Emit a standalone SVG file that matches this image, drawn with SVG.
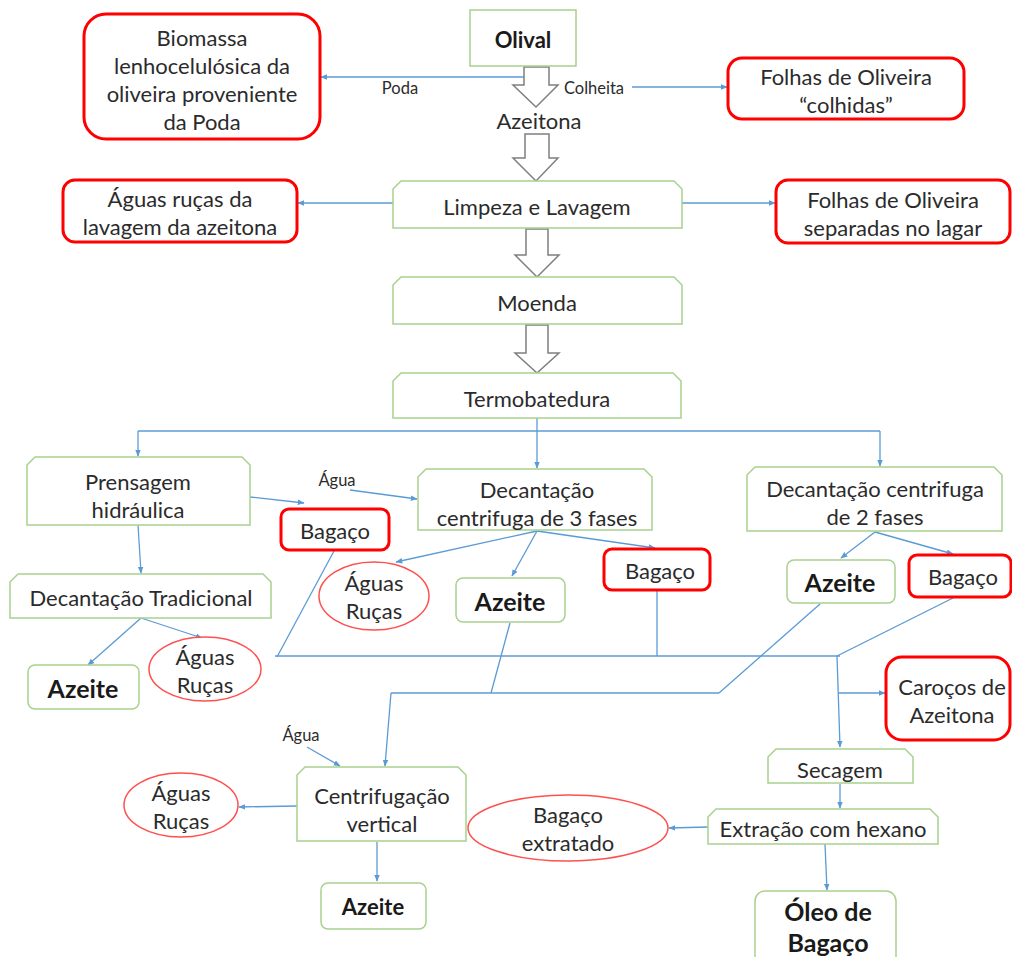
<svg xmlns="http://www.w3.org/2000/svg" width="1012" height="957" viewBox="0 0 1012 957">
  <defs>
    <marker id="ah" viewBox="0 0 10 10" refX="9" refY="5" markerWidth="7" markerHeight="7" orient="auto" markerUnits="userSpaceOnUse">
      <path d="M0,1 L10,5 L0,9 Z" fill="#5b9bd5"/>
    </marker>
    <style>
      text { font-family: "Lato", "Liberation Sans", sans-serif; font-size: 22px; fill: #2b2b2b; text-anchor: middle; dominant-baseline: central; }
      .b { font-weight: bold; font-size: 25px; fill: #1a1a1a; }
      .s { font-size: 16.5px; }
      .proc { fill: #fff; stroke: #a9d18e; stroke-width: 1.5; }
      .res { fill: #fff; stroke: #ff0000; stroke-width: 3; }
      .ell { fill: #fff; stroke: #ff5050; stroke-width: 1.5; }
      .big { fill: #fff; stroke: #7f7f7f; stroke-width: 1.5; }
      .c { fill: none; stroke: #5b9bd5; stroke-width: 1.3; }
      .ca { fill: none; stroke: #5b9bd5; stroke-width: 1.3; marker-end: url(#ah); }
    </style>
  </defs>
  <rect width="1012" height="957" fill="#fff"/>

  <!-- connectors -->
  <g id="connectors">
    <!-- Olival branches -->
    <path class="ca" d="M524,77 L321,77"/>
    <path class="ca" d="M632,87 L727,87"/>
    <!-- Limpeza side products -->
    <path class="ca" d="M393,203 L298,203"/>
    <path class="ca" d="M682,203 L775,203"/>
    <!-- Termobatedura split -->
    <path class="c" d="M537,418 L537,431"/>
    <path class="c" d="M138,431 L880,431"/>
    <path class="ca" d="M138,431 L138,456"/>
    <path class="ca" d="M537,431 L537,468"/>
    <path class="ca" d="M880,431 L880,466"/>
    <!-- Prensagem -->
    <path class="ca" d="M250,497 L304,503"/>
    <path class="ca" d="M138,525 L141,573"/>
    <path class="ca" d="M141,618 L88,665"/>
    <path class="ca" d="M141,618 L202,638"/>
    <!-- Água into 3 fases -->
    <path class="ca" d="M350,490 L417,499"/>
    <!-- 3 fases outputs -->
    <path class="ca" d="M537,531 L396,562"/>
    <path class="ca" d="M537,531 L512,576"/>
    <path class="ca" d="M537,531 L655,548"/>
    <!-- 2 fases outputs -->
    <path class="ca" d="M875,532 L841,558"/>
    <path class="ca" d="M875,532 L953,554"/>
    <!-- bagaço collector -->
    <path class="c" d="M334,551 L277,657"/>
    <path class="c" d="M275,656 L840,656"/>
    <path class="c" d="M657,591 L657,656"/>
    <path class="c" d="M953,598 L837,656"/>
    <path class="ca" d="M837,656 L840,747"/>
    <path class="ca" d="M838,693 L885,693"/>
    <!-- azeite collector -->
    <path class="c" d="M510,623 L491,693"/>
    <path class="c" d="M820,604 L719,693"/>
    <path class="c" d="M391,693 L719,693"/>
    <path class="ca" d="M391,693 L385,766"/>
    <!-- Centrifugação vertical -->
    <path class="ca" d="M307,747 L340,766"/>
    <path class="ca" d="M297,806 L239,807"/>
    <path class="ca" d="M377,842 L377,881"/>
    <!-- Secagem / extração -->
    <path class="ca" d="M840,784 L840,808"/>
    <path class="ca" d="M708,827 L669,828"/>
    <path class="ca" d="M825,844 L827,890"/>
  </g>

  <!-- hollow block arrows of the main line -->
  <g id="main-arrows">
    <path class="big" d="M524,67 L549,67 L549,85 L558,85 L536,107 L513,85 L524,85 Z"/>
    <path class="big" d="M525,134 L549,134 L549,158 L558,158 L536,181 L513,158 L525,158 Z"/>
    <path class="big" d="M526,229 L548,229 L548,255 L559,255 L537,277 L515,255 L526,255 Z"/>
    <path class="big" d="M526,325 L548,325 L548,353 L559,353 L537,373 L515,353 L526,353 Z"/>
  </g>

  <!-- main line -->
  <g id="olival">
    <rect class="proc" x="470" y="10" width="106" height="56"/>
    <text class="b" x="523" y="39" style="font-size:22px">Olival</text>
  </g>
  <g id="poda-label"><text class="s" x="400" y="88">Poda</text></g>
  <g id="colheita-label"><text class="s" x="594" y="88">Colheita</text></g>
  <g id="azeitona"><text x="539" y="120">Azeitona</text></g>

  <g id="biomassa">
    <rect class="res" x="84" y="14" width="236" height="125" rx="22"/>
    <text x="202" y="37">Biomassa</text>
    <text x="202" y="65">lenhocelulósica da</text>
    <text x="202" y="93">oliveira proveniente</text>
    <text x="202" y="121">da Poda</text>
  </g>
  <g id="folhas-colhidas">
    <rect class="res" x="728" y="58" width="236" height="61" rx="14"/>
    <text x="846" y="76">Folhas de Oliveira</text>
    <text x="846" y="104">“colhidas”</text>
  </g>

  <g id="limpeza">
    <path class="proc" d="M401,181 L674,181 L682,189 L682,228 L393,228 L393,189 Z"/>
    <text x="537" y="206">Limpeza e Lavagem</text>
  </g>
  <g id="aguas-lavagem">
    <rect class="res" x="63" y="180" width="234" height="62" rx="12"/>
    <text x="180" y="198">Águas ruças da</text>
    <text x="180" y="226">lavagem da azeitona</text>
  </g>
  <g id="folhas-lagar">
    <rect class="res" x="776" y="180" width="234" height="63" rx="12"/>
    <text x="893" y="199">Folhas de Oliveira</text>
    <text x="893" y="227">separadas no lagar</text>
  </g>

  <g id="moenda">
    <path class="proc" d="M401,277 L674,277 L682,285 L682,324 L393,324 L393,285 Z"/>
    <text x="537" y="302">Moenda</text>
  </g>
  <g id="termobatedura">
    <path class="proc" d="M401,373 L673,373 L681,381 L681,418 L393,418 L393,381 Z"/>
    <text x="537" y="398">Termobatedura</text>
  </g>

  <!-- extraction branches -->
  <g id="prensagem">
    <path class="proc" d="M35,457 L242,457 L250,465 L250,525 L27,525 L27,465 Z"/>
    <text x="138" y="481">Prensagem</text>
    <text x="138" y="509">hidráulica</text>
  </g>
  <g id="agua-1"><text class="s" x="337" y="480">Água</text></g>
  <g id="decant-3">
    <path class="proc" d="M426,469 L644,469 L652,477 L652,530 L418,530 L418,477 Z"/>
    <text x="537" y="489">Decantação</text>
    <text x="537" y="517">centrifuga de 3 fases</text>
  </g>
  <g id="decant-2">
    <path class="proc" d="M755,467 L994,467 L1002,475 L1002,531 L747,531 L747,475 Z"/>
    <text x="875" y="488">Decantação centrifuga</text>
    <text x="875" y="516">de 2 fases</text>
  </g>

  <g id="bagaco-1">
    <rect class="res" x="281" y="509" width="108" height="41" rx="8"/>
    <text x="335" y="530">Bagaço</text>
  </g>
  <g id="decant-trad">
    <path class="proc" d="M18,574 L263,574 L271,582 L271,618 L10,618 L10,582 Z"/>
    <text x="141" y="597">Decantação Tradicional</text>
  </g>
  <g id="azeite-1">
    <rect class="proc" x="28" y="665" width="111" height="44" rx="7"/>
    <text class="b" x="83" y="688">Azeite</text>
  </g>
  <g id="aguas-rucas-1">
    <ellipse class="ell" cx="205" cy="669" rx="56" ry="32"/>
    <text x="205" y="656">Águas</text>
    <text x="205" y="684">Ruças</text>
  </g>

  <g id="aguas-rucas-2">
    <ellipse class="ell" cx="374" cy="596" rx="55" ry="34"/>
    <text x="374" y="582">Águas</text>
    <text x="374" y="610">Ruças</text>
  </g>
  <g id="azeite-2">
    <rect class="proc" x="456" y="578" width="109" height="44" rx="7"/>
    <text class="b" x="510" y="601">Azeite</text>
  </g>
  <g id="bagaco-2">
    <rect class="res" x="604" y="549" width="106" height="41" rx="8"/>
    <text x="660" y="570">Bagaço</text>
  </g>

  <g id="azeite-3">
    <rect class="proc" x="787" y="560" width="108" height="43" rx="7"/>
    <text class="b" x="840" y="582">Azeite</text>
  </g>
  <g id="bagaco-3">
    <rect class="res" x="909" y="555" width="102" height="42" rx="8"/>
    <text x="963" y="576">Bagaço</text>
  </g>

  <g id="carocos">
    <rect class="res" x="886" y="657" width="124" height="83" rx="16"/>
    <text x="952" y="686">Caroços de</text>
    <text x="952" y="714">Azeitona</text>
  </g>

  <!-- vertical centrifugation -->
  <g id="agua-2"><text class="s" x="301" y="735">Água</text></g>
  <g id="centrifugacao">
    <path class="proc" d="M305,767 L458,767 L466,775 L466,841 L297,841 L297,775 Z"/>
    <text x="382" y="795">Centrifugação</text>
    <text x="382" y="823">vertical</text>
  </g>
  <g id="aguas-rucas-3">
    <ellipse class="ell" cx="181" cy="805" rx="57" ry="32"/>
    <text x="181" y="792">Águas</text>
    <text x="181" y="820">Ruças</text>
  </g>
  <g id="azeite-4">
    <rect class="proc" x="321" y="883" width="105" height="46" rx="7"/>
    <text class="b" x="373" y="906" style="font-size:22px">Azeite</text>
  </g>

  <!-- pomace oil route -->
  <g id="secagem">
    <path class="proc" d="M776,749 L905,749 L913,757 L913,783 L768,783 L768,757 Z"/>
    <text x="840" y="769">Secagem</text>
  </g>
  <g id="extracao">
    <path class="proc" d="M716,809 L930,809 L938,817 L938,844 L708,844 L708,817 Z"/>
    <text x="823" y="828">Extração com hexano</text>
  </g>
  <g id="bagaco-extratado">
    <ellipse class="ell" cx="568" cy="828" rx="100" ry="33"/>
    <text x="568" y="814">Bagaço</text>
    <text x="568" y="842">extratado</text>
  </g>
  <g id="oleo-bagaco">
    <rect class="proc" x="755" y="891" width="141" height="80" rx="10"/>
    <text class="b" x="828" y="911">Óleo de</text>
    <text class="b" x="828" y="942">Bagaço</text>
  </g>
</svg>
